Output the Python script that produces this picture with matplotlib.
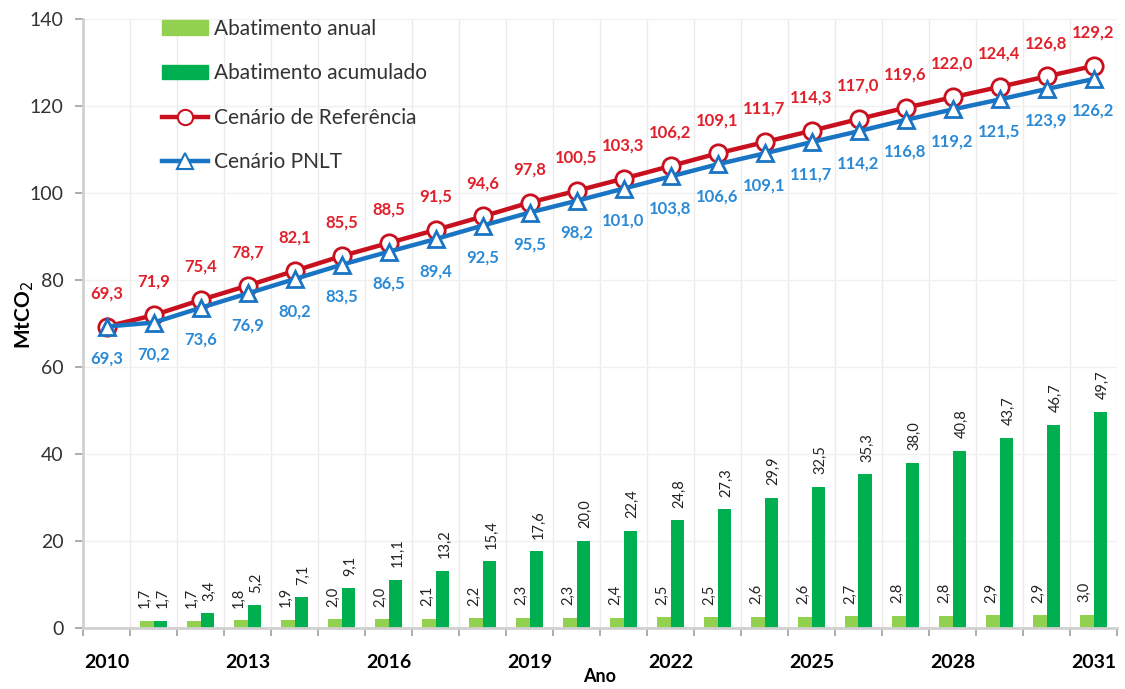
import matplotlib
matplotlib.use("Agg")
import matplotlib.pyplot as plt
import numpy as np
from matplotlib.patches import Patch
from matplotlib.lines import Line2D

plt.rcParams['font.family'] = ['Lato', 'DejaVu Sans']

years = list(range(2010, 2032))
referencia = [69.3, 71.9, 75.4, 78.7, 82.1, 85.5, 88.5, 91.5, 94.6, 97.8, 100.5,
              103.3, 106.2, 109.1, 111.7, 114.3, 117.0, 119.6, 122.0, 124.4, 126.8, 129.2]
pnlt = [69.3, 70.2, 73.6, 76.9, 80.2, 83.5, 86.5, 89.4, 92.5, 95.5, 98.2,
        101.0, 103.8, 106.6, 109.1, 111.7, 114.2, 116.8, 119.2, 121.5, 123.9, 126.2]
bar_years = list(range(2011, 2032))
anual = [1.7, 1.7, 1.8, 1.9, 2.0, 2.0, 2.1, 2.2, 2.3, 2.3, 2.4, 2.5, 2.5, 2.6,
         2.6, 2.7, 2.8, 2.8, 2.9, 2.9, 3.0]
acumulado = [1.7, 3.4, 5.2, 7.1, 9.1, 11.1, 13.2, 15.4, 17.6, 20.0, 22.4, 24.8,
             27.3, 29.9, 32.5, 35.3, 38.0, 40.8, 43.7, 46.7, 49.7]
xtick_years = [2010, 2013, 2016, 2019, 2022, 2025, 2028, 2031]

RED = '#C8101E'
RED_TXT = '#E0202A'
BLUE = '#1A74C4'
BLUE_TXT = '#2B8AD6'
LGREEN = '#92D050'
DGREEN = '#00B050'

def fmt(v):
    return f"{v:.1f}".replace('.', ',')

fig = plt.figure(figsize=(11.25, 6.89), dpi=100)
ax = fig.add_axes([83/1125, 1-628/689, (1117-83)/1125, (628-19)/689])

x = np.arange(len(years))
bx = np.array([years.index(y) for y in bar_years])
bw = 0.285
ax.bar(bx - bw/2, anual, width=bw, color=LGREEN, zorder=2)
ax.bar(bx + bw/2, acumulado, width=bw, color=DGREEN, zorder=2)

for xi, a, c in zip(bx, anual, acumulado):
    ax.annotate(fmt(a), (xi - bw/2, a), xytext=(-1.5, 9), textcoords='offset points',
                rotation=90, ha='center', va='bottom', fontsize=10.5, color='#222222')
    ax.annotate(fmt(c), (xi + bw/2, c), xytext=(1.5, 9), textcoords='offset points',
                rotation=90, ha='center', va='bottom', fontsize=10.5, color='#222222')

ax.plot(x, referencia, color=RED, lw=3.2, marker='o', ms=12.5, mfc='white',
        mec=RED, mew=2, zorder=3)
ax.plot(x, pnlt, color=BLUE, lw=3.2, marker='^', ms=12, mfc='white',
        mec=BLUE, mew=2, zorder=4)

for xi, v in zip(x, referencia):
    ax.annotate(fmt(v), (xi, v), xytext=(0, 24), textcoords='offset points',
                ha='center', va='center', fontsize=12, fontweight='bold', color=RED_TXT)
for xi, v in zip(x, pnlt):
    ax.annotate(fmt(v), (xi, v), xytext=(0, -23), textcoords='offset points',
                ha='center', va='center', fontsize=12, fontweight='bold', color=BLUE_TXT)

ax.set_xlim(-0.5, len(years) - 0.5)
ax.set_ylim(0, 140)
ax.set_yticks(range(0, 141, 20))
ax.set_xticks([years.index(y) for y in xtick_years])
ax.set_xticklabels([str(y) for y in xtick_years], fontsize=14, fontweight='bold')
ax.set_xticks(np.arange(-0.5, len(years)), minor=True)
ax.tick_params(axis='x', which='major', length=0, pad=19)
ax.tick_params(axis='x', which='minor', length=6, width=1.2, color='#A0A0A0')
ax.tick_params(axis='y', length=6, width=1.2, color='#A0A0A0', labelsize=14,
               labelcolor='#333333', pad=8)
ax.grid(axis='x', which='minor', color='#EBEBEB', lw=1, zorder=0)
ax.grid(axis='y', which='major', color='#F0F0F0', lw=1, zorder=0)
ax.set_axisbelow(True)
for s in ['top', 'right']:
    ax.spines[s].set_visible(False)
for s in ['left', 'bottom']:
    ax.spines[s].set_color('#D0D0D0')
    ax.spines[s].set_linewidth(2)

fig.text(25/1125, 1-315/689, 'MtCO$_2$', rotation=90, ha='center', va='center',
         fontsize=15, fontweight='bold')
fig.text(600/1125, 1-677/689, 'Ano', ha='center', va='center', fontsize=13,
         fontweight='bold')

handles = [Patch(color=LGREEN), Patch(color=DGREEN),
           Line2D([], [], color=RED, lw=3.2, marker='o', ms=11, mfc='white', mec=RED, mew=1.5),
           Line2D([], [], color=BLUE, lw=3.2, marker='^', ms=11, mfc='white', mec=BLUE, mew=1.5)]
labels = ['Abatimento anual', 'Abatimento acumulado', 'Cenário de Referência', 'Cenário PNLT']
leg = ax.legend(handles, labels, loc='upper left', bbox_to_anchor=(143/1125, 1-0/689),
                bbox_transform=fig.transFigure, frameon=False, fontsize=15,
                labelspacing=1.18, handlelength=2.2, handletextpad=0.3, numpoints=1)
for t in leg.get_texts():
    t.set_color('#333333')

fig.savefig('out.png', dpi=100)
